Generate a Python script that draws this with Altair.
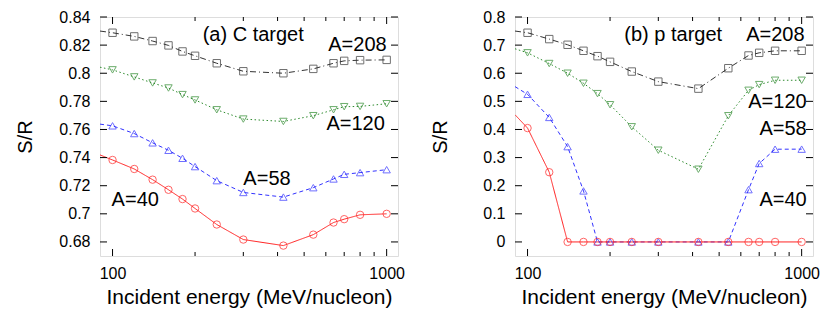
import altair as alt
import pandas as pd

# ---------------- data ----------------
series = ["A=208", "A=120", "A=58", "A=40"]
energies = [100, 120, 140, 160, 180, 200, 240, 300, 420, 540, 640, 700, 800, 1000]
edge_energy = 90  # left border of the plot, where the curves enter

c208 = [0.8288, 0.8262, 0.8229, 0.8198, 0.8155, 0.8124, 0.8071, 0.8014, 0.8000, 0.8031, 0.8071, 0.8088, 0.8093, 0.8095]
c120 = [0.8024, 0.7974, 0.7931, 0.7895, 0.7848, 0.7810, 0.7740, 0.7674, 0.7657, 0.7698, 0.7740, 0.7762, 0.7764, 0.7783]
c58 = [0.7626, 0.7571, 0.7505, 0.7452, 0.7395, 0.7336, 0.7236, 0.7152, 0.7119, 0.7186, 0.7248, 0.7281, 0.7293, 0.7314]
c40 = [0.7383, 0.7319, 0.7243, 0.7171, 0.7105, 0.7038, 0.6924, 0.6817, 0.6774, 0.6852, 0.6938, 0.6962, 0.6993, 0.7000]
c_edge = [0.8300, 0.8043, 0.7638, 0.7419]

p208 = [0.744, 0.7214, 0.7012, 0.6798, 0.6607, 0.6405, 0.606, 0.5702, 0.5452, 0.6179, 0.6631, 0.6726, 0.6798, 0.6798]
p120 = [0.6726, 0.6345, 0.600, 0.5643, 0.5274, 0.488, 0.4095, 0.3262, 0.2586, 0.4488, 0.5393, 0.5595, 0.575, 0.575]
p58 = [0.525, 0.4429, 0.339, 0.1815, 0, 0, 0, 0, 0, 0, 0.186, 0.279, 0.3298, 0.330]
p40 = [0.405, 0.248, 0, 0, 0, 0, 0, 0, 0, 0, 0, 0, 0, 0]
p_edge = [0.750, 0.687, 0.5524, 0.4524]

x_major = [100, 1000]
x_minor = [200, 300, 400, 500, 600, 700, 800, 900]
c_yticks = [0.68, 0.70, 0.72, 0.74, 0.76, 0.78, 0.80, 0.82, 0.84]
p_yticks = [0.0, 0.1, 0.2, 0.3, 0.4, 0.5, 0.6, 0.7, 0.8]

c_labels = [
    ("(a) C target", 326, 0.827, "center"),
    ("A=208", 1000, 0.820, "right"),
    ("A=120", 985, 0.7639, "right"),
    ("A=58", 366, 0.7248, "center"),
    ("A=40", 121, 0.7099, "center"),
]
p_labels = [
    ("(b) p target", 340, 0.736, "center"),
    ("A=208", 1025, 0.736, "right"),
    ("A=120", 1043, 0.498, "right"),
    ("A=58", 1043, 0.402, "right"),
    ("A=40", 1043, 0.149, "right"),
]

colors = ["#333333", "#2e8b2e", "#3333ff", "#ff2222"]
shapes = ["square", "triangle-down", "triangle-up", "circle"]
dashes = [[6, 3, 1, 3], [1.5, 2.5], [4, 3], [1, 0]]

W, H = 298, 239
FONT = "Liberation Sans"


def panel(vals, edge, ydom, yticks, labels):
    pts = []
    lines = []
    for s, v, e in zip(series, vals, edge):
        lines.append({"E": edge_energy, "v": e, "s": s, "o": 0})
        for i, (x, y) in enumerate(zip(energies, v)):
            pts.append({"E": x, "v": y, "s": s})
            lines.append({"E": x, "v": y, "s": s, "o": i + 1})
    pts = pd.DataFrame(pts)
    lines = pd.DataFrame(lines)

    xs = alt.Scale(type="log", domain=[90, 1100], nice=False)
    ys = alt.Scale(domain=ydom, nice=False, zero=False)
    cs = alt.Scale(domain=series, range=colors)

    xaxis = alt.Axis(values=x_major, format="d", ticks=False, domain=False, grid=False,
                     labelFontSize=16, labelPadding=9, labelFont=FONT, labelOverlap=False,
                     title="Incident energy (MeV/nucleon)", titleFontSize=21,
                     titleFontWeight="normal", titleFont=FONT, titlePadding=5)
    yaxis = alt.Axis(values=yticks, format="~g", ticks=False, domain=False, grid=False,
                     labelFontSize=16, labelPadding=10, labelFont=FONT, labelOverlap=False,
                     title="S/R", titleFontSize=20, titleFontWeight="normal",
                     titleFont=FONT, titleX=-65)

    def X(f):
        return alt.X(f, scale=xs, axis=xaxis)

    def Y(f):
        return alt.Y(f, scale=ys, axis=yaxis)

    line = alt.Chart(lines).mark_line(strokeWidth=1, clip=True).encode(
        x=X("E:Q"), y=Y("v:Q"),
        color=alt.Color("s:N", scale=cs, legend=None),
        strokeDash=alt.StrokeDash("s:N", scale=alt.Scale(domain=series, range=dashes), legend=None),
        order="o:Q",
    )
    point = alt.Chart(pts).mark_point(filled=False, size=55, strokeWidth=1).encode(
        x=X("E:Q"), y=Y("v:Q"),
        color=alt.Color("s:N", scale=cs, legend=None),
        shape=alt.Shape("s:N", scale=alt.Scale(domain=series, range=shapes), legend=None),
    )

    xmaj = pd.DataFrame({"t": x_major})
    xmin = pd.DataFrame({"t": x_minor})
    ytk = pd.DataFrame({"t": yticks})
    tick_layers = []
    for df, ln in ((xmaj, 7), (xmin, 4)):
        tick_layers.append(alt.Chart(df).mark_rule(color="black", strokeWidth=1).encode(
            x=X("t:Q"), y=alt.value(H), y2=alt.value(H - ln)))
        tick_layers.append(alt.Chart(df).mark_rule(color="black", strokeWidth=1).encode(
            x=X("t:Q"), y=alt.value(0), y2=alt.value(ln)))
    tick_layers.append(alt.Chart(ytk).mark_rule(color="black", strokeWidth=1).encode(
        y=Y("t:Q"), x=alt.value(0), x2=alt.value(7)))
    tick_layers.append(alt.Chart(ytk).mark_rule(color="black", strokeWidth=1).encode(
        y=Y("t:Q"), x=alt.value(W), x2=alt.value(W - 7)))

    text_layers = []
    for al in ("left", "center", "right"):
        sub = [l for l in labels if l[3] == al]
        if not sub:
            continue
        df = pd.DataFrame({"txt": [l[0] for l in sub], "E": [l[1] for l in sub],
                           "v": [l[2] for l in sub]})
        text_layers.append(alt.Chart(df).mark_text(align=al, baseline="middle", fontSize=20,
                                                   font=FONT, color="black").encode(
            x=X("E:Q"), y=Y("v:Q"), text="txt:N"))

    return alt.layer(line, point, *tick_layers, *text_layers).properties(width=W, height=H)


left = panel([c208, c120, c58, c40], c_edge, [0.67, 0.84], c_yticks, c_labels)
right = panel([p208, p120, p58, p40], p_edge, [-0.05, 0.8], p_yticks, p_labels)

chart = alt.hconcat(left, right, spacing=117, bounds="flush").properties(
    padding={"left": 6, "top": 0, "right": 0, "bottom": 0}
).configure_view(stroke="black", strokeWidth=1.6).configure(background="white")

chart.save("out.html", embed_options={"renderer": "svg", "actions": False})
